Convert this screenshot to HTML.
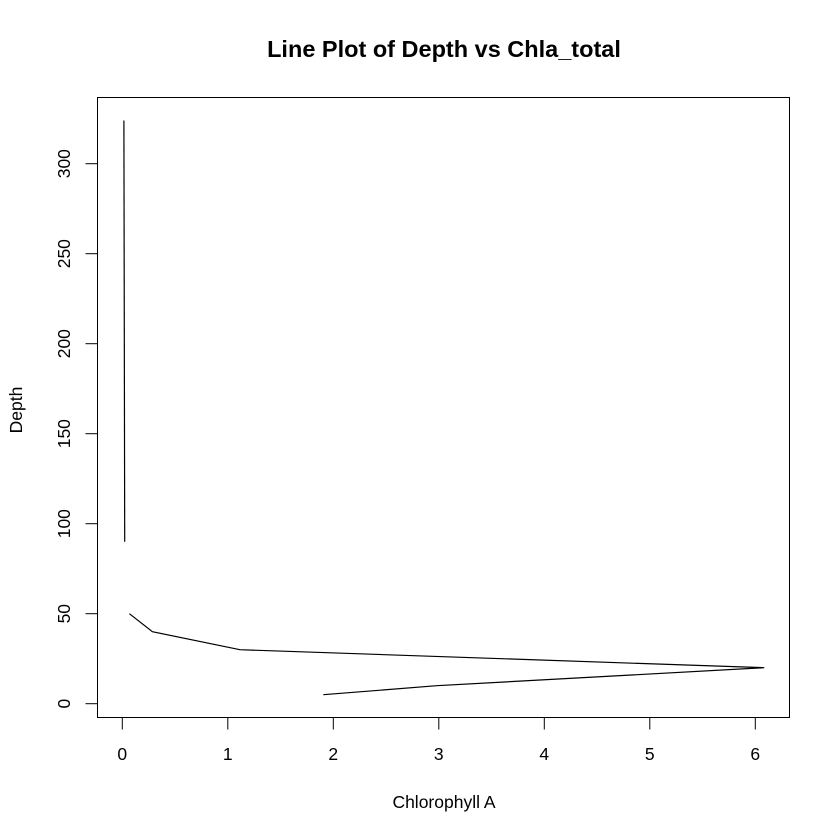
<!DOCTYPE html>
<html><head><meta charset="utf-8"><style>body{margin:0;background:#fff}svg{display:block;font-family:"Liberation Sans",sans-serif}</style></head>
<body>
<svg id="chart" width="840" height="840" viewBox="0 0 840 840" xmlns="http://www.w3.org/2000/svg"></svg>
<script>
const chlaValues = [1.905, 2.98, 6.085, 1.115, 0.285, 0.067, null, 0.023, 0.015];
const depthValues = [5, 10, 20, 30, 40, 50, 70, 90, 324];
const xTicks = [0, 1, 2, 3, 4, 5, 6];
const yTicks = [0, 50, 100, 150, 200, 250, 300];
const NS = 'http://www.w3.org/2000/svg';
const svg = document.getElementById('chart');
const X = v => 122.3 + v * 105.5;
const Y = v => 703.7 - v * 1.8;
function el(tag, attrs, text) {
  const e = document.createElementNS(NS, tag);
  for (const k in attrs) e.setAttribute(k, attrs[k]);
  if (text !== undefined) e.textContent = text;
  svg.appendChild(e);
  return e;
}
let e;
e = el('text', {x: 444, y: 57, 'text-anchor': 'middle', 'font-size': 23.5, 'font-weight': 'bold'}, 'Line Plot of Depth vs Chla_total');
 
e = el('rect', {x: 97.5, y: 97.5, width: 692, height: 620, fill: 'none', stroke: '#000', 'stroke-width': 1});
 
xTicks.forEach(t => {
  let l = el('line', {x1: X(t), x2: X(t), y1: 717.5, y2: 729.5, stroke: '#000'});
   
  let tx = el('text', {x: X(t), y: 760, 'text-anchor': 'middle', 'font-size': 17.5}, String(t));
   
});
yTicks.forEach(t => {
  let l = el('line', {x1: 85.5, x2: 97.5, y1: Y(t), y2: Y(t), stroke: '#000'});
   
  let tx = el('text', {x: 0, y: 0, 'text-anchor': 'middle', 'font-size': 17.5, transform: `translate(70,${Y(t)}) rotate(-90)`}, String(t));
   
});
e = el('text', {x: 444, y: 808, 'text-anchor': 'middle', 'font-size': 17.5}, 'Chlorophyll A');
 
e = el('text', {x: 0, y: 0, 'text-anchor': 'middle', 'font-size': 17.5, transform: 'translate(22,410) rotate(-90)'}, 'Depth');
 
let seg = [];
const segs = [];
chlaValues.forEach((v, i) => {
  if (v === null) { if (seg.length) segs.push(seg); seg = []; }
  else seg.push(X(v).toFixed(1) + ',' + Y(depthValues[i]).toFixed(1));
});
if (seg.length) segs.push(seg);
segs.forEach(s => {
  let p = el('polyline', {points: s.join(' '), fill: 'none', stroke: '#000', 'stroke-width': 1.2});
   
});
</script>
</body></html>
